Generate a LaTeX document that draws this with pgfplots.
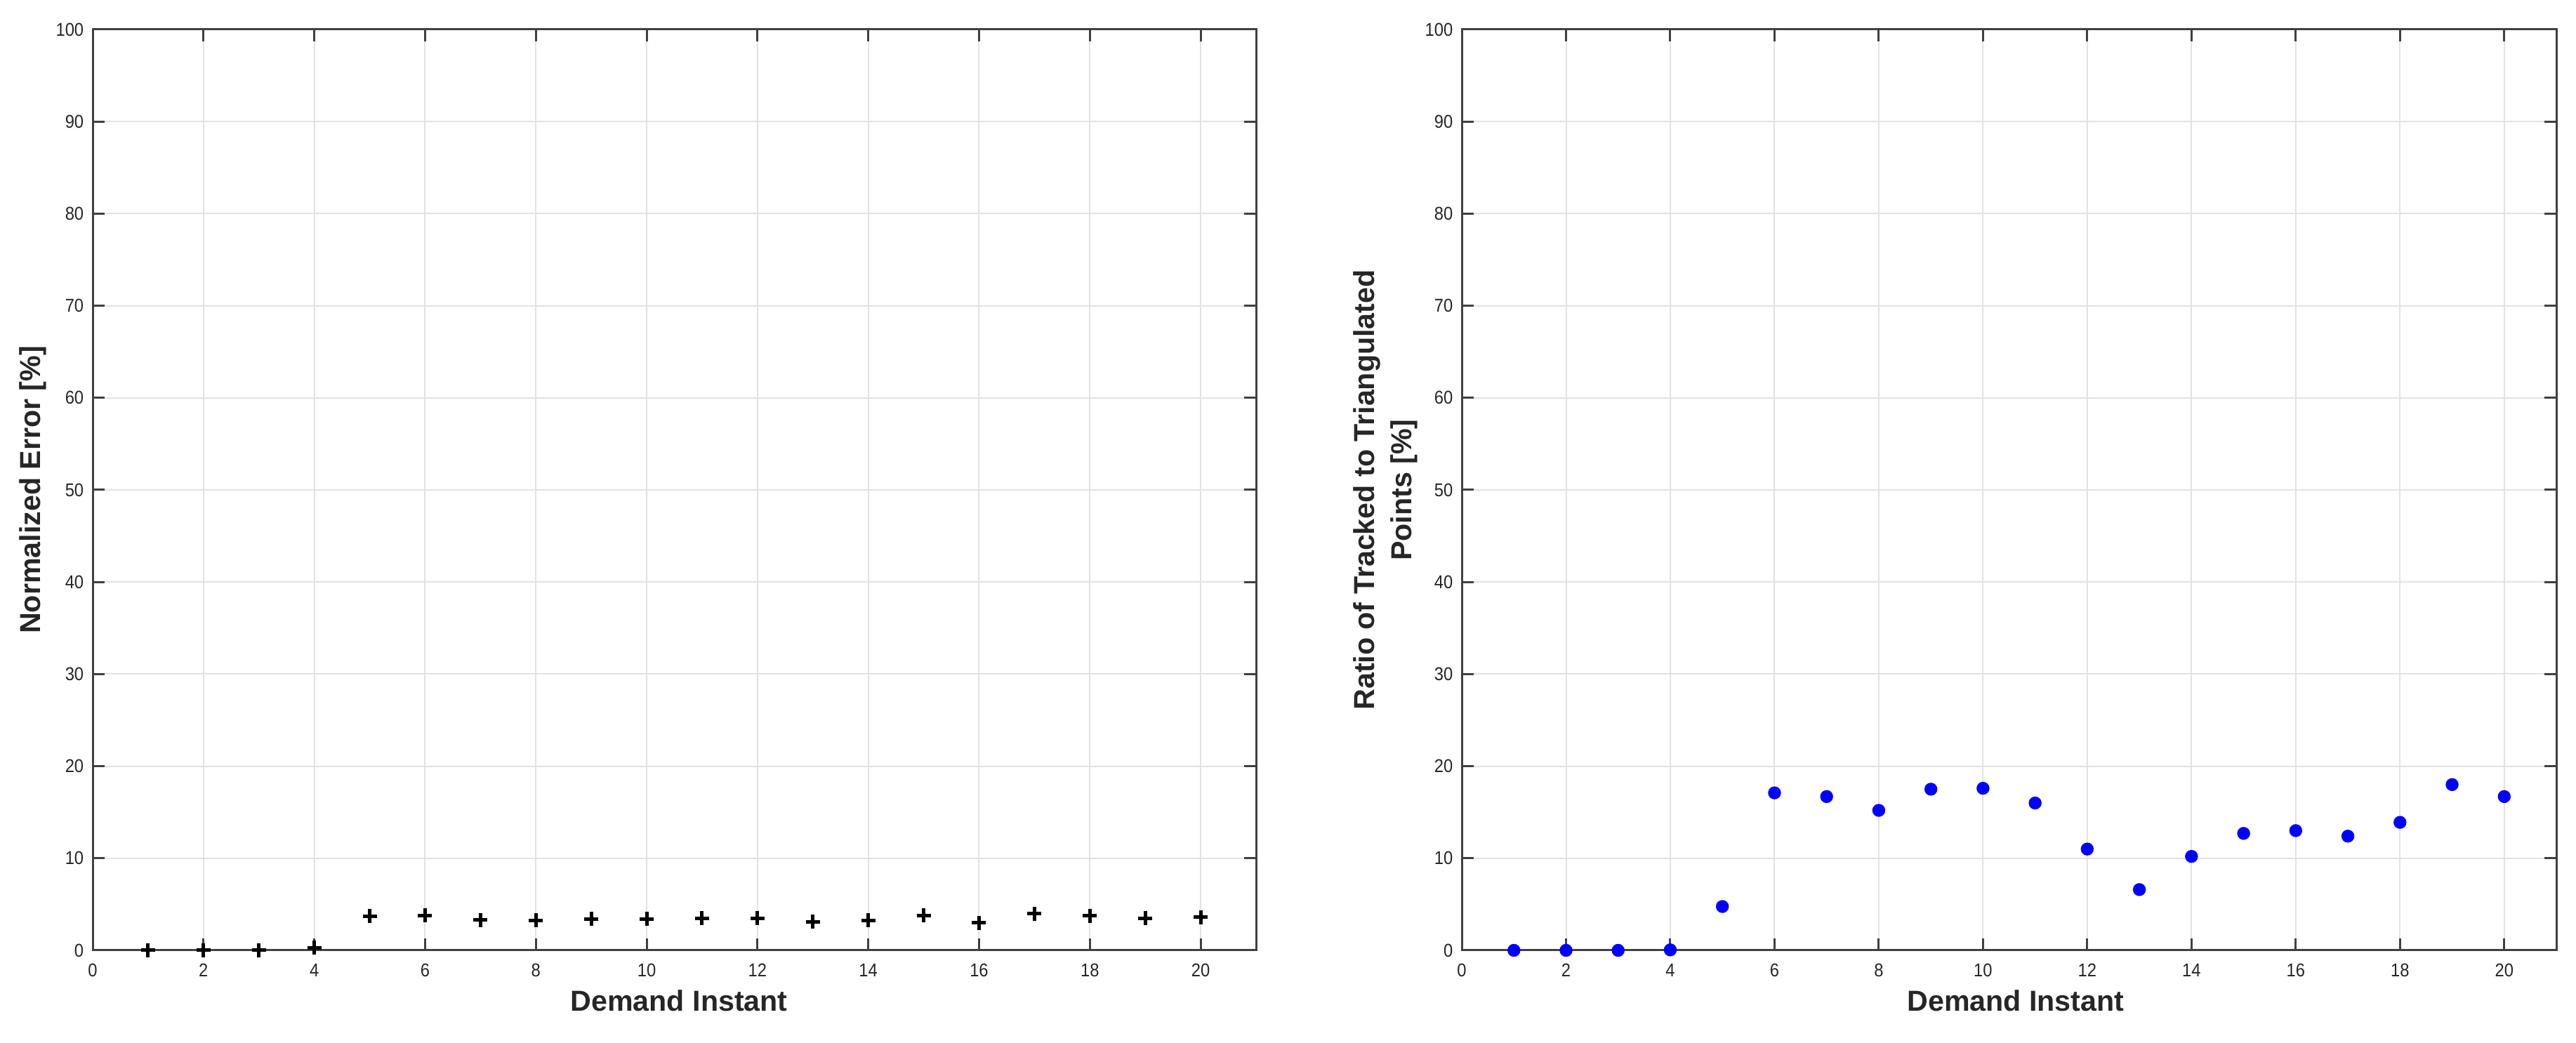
\documentclass[border=0pt]{standalone}
\usepackage{fontspec}
\setmainfont{Liberation Sans}
\newfontfamily\tickfont[FakeStretch=0.9]{Liberation Sans}
\usepackage{pgfplots}
\pgfplotsset{compat=1.18}
\definecolor{axgray}{HTML}{404040}
\definecolor{gridgray}{HTML}{E2E2E2}
\definecolor{tickgray}{HTML}{262626}
\pgfplotsset{
  mlab/.style={
    scale only axis,
    height=328pt,
    xmin=0, xmax=21, ymin=0, ymax=100,
    xtick={0,2,...,20}, ytick={0,10,...,100},
    grid=major,
    major grid style={color=gridgray, line width=0.5pt},
    axis line style={color=axgray, line width=0.75pt},
    tick align=inside,
    major tick length=4.25pt,
    tick style={color=axgray, line width=0.75pt},
    /pgf/number format/assume math mode=true,
    ticklabel style={font=\tickfont\fontsize{6.6}{8}\selectfont, text=tickgray},
    xticklabel style={anchor=center, inner sep=0pt, yshift=-7pt},
    yticklabel style={anchor=east, inner sep=0pt, xshift=-3pt},
    label style={font=\bfseries\fontsize{10.3}{13.25}\selectfont, text=tickgray},
    clip=false,
  }
}
\begin{document}
\begin{tikzpicture}
\path[use as bounding box] (0,0) rectangle (917.25pt,371.5pt);
\begin{axis}[mlab,
  at={(33pt,33pt)}, anchor=south west,
  width=414.25pt,
  xlabel={Demand Instant},
  ylabel={Normalized Error [\%]},
  xlabel style={at={(axis description cs:0.504,-0.0549)}, anchor=center},
  ylabel style={at={(axis description cs:-0.0513,0.5)}, anchor=center},
]
\addplot[only marks, mark=+, mark size=2.5pt, mark options={line width=1.25pt, color=black}] coordinates {
(1,0) (2,0) (3,0) (4,0.3) (5,3.7) (6,3.8) (7,3.3) (8,3.25) (9,3.4) (10,3.4)
(11,3.5) (12,3.5) (13,3.1) (14,3.25) (15,3.8) (16,3.0) (17,4.0) (18,3.75) (19,3.5) (20,3.6)
};
\end{axis}
\begin{axis}[mlab,
  at={(520.5pt,33pt)}, anchor=south west,
  width=389.75pt,
  xlabel={Demand Instant},
  ylabel={Ratio of Tracked to Triangulated\\Points [\%]},
  xlabel style={at={(axis description cs:0.506,-0.0549)}, anchor=center},
  ylabel style={at={(axis description cs:-0.0696,0.5)}, anchor=center, align=center},
]
\addplot[only marks, mark=*, mark size=2.1pt, mark options={draw=blue, fill=blue}] coordinates {
(1,0) (2,0) (3,0) (4,0.05) (5,4.76) (6,17.1) (7,16.7) (8,15.2) (9,17.5) (10,17.6)
(11,16.0) (12,11.0) (13,6.6) (14,10.2) (15,12.7) (16,13.0) (17,12.4) (18,13.9) (19,18.0) (20,16.7)
};
\end{axis}
\end{tikzpicture}
\end{document}
